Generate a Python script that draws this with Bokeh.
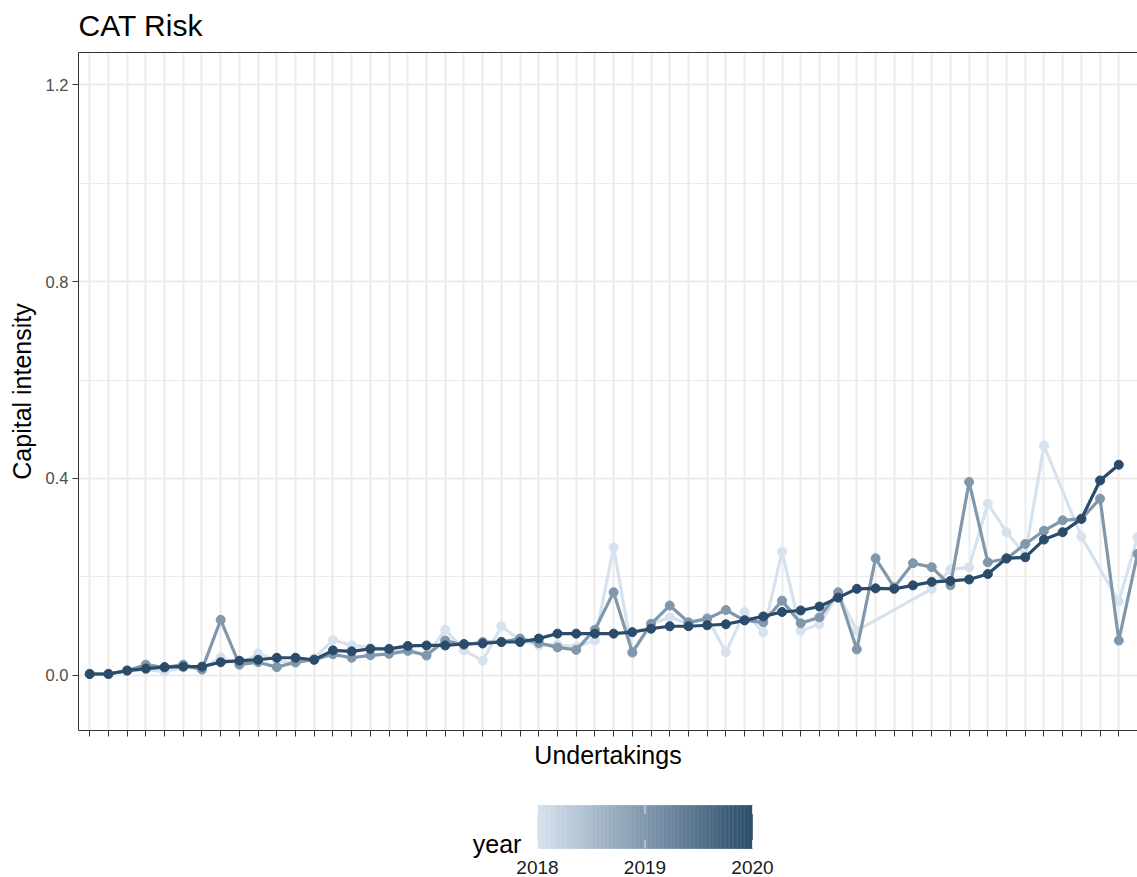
from bokeh.embed import file_html
from bokeh.layouts import column
from bokeh.models import FixedTicker, LinearAxis, Range1d
from bokeh.plotting import figure
from bokeh.resources import INLINE

# Capital intensity for CAT risk, one value per undertaking and year
# (undertakings ordered along the x axis; None = no submission that year)
undertakings = list(range(57))
years = [2018, 2019, 2020]

ci_2018 = [0.004, 0.004, 0.009, 0.012, 0.008, 0.016, 0.014, 0.037, 0.022, 0.045,
           0.030, 0.024, 0.035, 0.072, 0.061, 0.057, 0.052, 0.055, 0.039, 0.093,
           0.051, 0.030, 0.100, 0.072, 0.061, 0.063, 0.058, 0.071, 0.260, 0.045,
           0.105, 0.118, 0.105, 0.118, 0.047, 0.129, 0.087, 0.251, 0.091, 0.104,
           0.165, 0.091, None, None, None, 0.176, 0.215, 0.220, 0.349, 0.291,
           0.245, 0.467, None, 0.282, None, 0.150, 0.281]

ci_2019 = [0.003, 0.003, 0.010, 0.022, 0.016, 0.022, 0.012, 0.113, 0.022, 0.027,
           0.017, 0.027, 0.032, 0.043, 0.036, 0.041, 0.044, 0.050, 0.041, 0.071,
           0.062, 0.068, 0.068, 0.075, 0.066, 0.057, 0.052, 0.093, 0.169, 0.047,
           0.105, 0.142, 0.108, 0.115, 0.133, 0.112, 0.108, 0.152, 0.106, 0.118,
           0.169, 0.053, 0.238, 0.179, 0.228, 0.220, 0.183, 0.393, 0.230, 0.237,
           0.267, 0.294, 0.315, 0.318, 0.359, 0.071, 0.247]

ci_2020 = [0.003, 0.003, 0.010, 0.014, 0.017, 0.018, 0.018, 0.027, 0.030, 0.032,
           0.036, 0.036, 0.032, 0.051, 0.049, 0.054, 0.054, 0.060, 0.061, 0.061,
           0.064, 0.065, 0.068, 0.068, 0.075, 0.085, 0.085, 0.085, 0.085, 0.088,
           0.095, 0.100, 0.100, 0.102, 0.104, 0.112, 0.120, 0.129, 0.132, 0.140,
           0.158, 0.176, 0.177, 0.176, 0.183, 0.190, 0.192, 0.195, 0.206, 0.238,
           0.240, 0.276, 0.291, 0.318, 0.396, 0.428, None]

y_ticks = [0.0, 0.4, 0.8, 1.2]
y_minor = [0.2, 0.6, 1.0]

FONT = "Liberation Sans"
BORDER = "#333333"
LOW, HIGH = (214, 226, 238), (42, 76, 106)


def year_colour(year):
    t = (year - years[0]) / (years[-1] - years[0])
    r, g, b = (round(lo + (hi - lo) * t) for lo, hi in zip(LOW, HIGH))
    return f"#{r:02x}{g:02x}{b:02x}"


def strip(width, height, x_range, y_range):
    """A bare figure used for the heading and the colour bar."""
    f = figure(width=width, height=height, output_backend="svg",
               toolbar_location=None, x_range=x_range, y_range=y_range,
               x_axis_type=None, y_axis_type=None,
               min_border_left=78, min_border_right=0, min_border_top=0,
               min_border_bottom=0)
    f.outline_line_color = None
    f.grid.visible = False
    f.background_fill_color = "white"
    f.border_fill_color = "white"
    return f


# ---------------------------------------------------------------- heading
head = strip(1137, 50, Range1d(0, 1059), Range1d(50, 0))
head.text(x=[0], y=[25], text=["CAT Risk"],
          text_font={"value": FONT}, text_font_size={"value": "30px"},
          text_color="black", text_align="left", text_baseline="middle")

# ---------------------------------------------------------------- main panel
p = figure(width=1137, height=730, output_backend="svg", toolbar_location=None,
           x_range=Range1d(-0.6, 56.0), y_range=Range1d(-0.1117, 1.265),
           min_border_left=78, min_border_right=0, min_border_top=2,
           min_border_bottom=50)
p.background_fill_color = "white"
p.border_fill_color = "white"
p.outline_line_color = None  # panel border drawn by the axes (open on the right)

xaxis = p.below[0]
yaxis = p.left[0]

xaxis.ticker = FixedTicker(ticks=undertakings)
xaxis.major_label_overrides = {i: "" for i in undertakings}
xaxis.major_label_text_font_size = "1px"
xaxis.major_label_standoff = 0
yaxis.ticker = FixedTicker(ticks=y_ticks, minor_ticks=y_minor)
yaxis.major_label_overrides = {v: f"{v:.1f}" for v in y_ticks}

for ax in (xaxis, yaxis):
    ax.axis_line_color = BORDER
    ax.axis_line_width = 1
    ax.major_tick_line_color = BORDER
    ax.major_tick_line_width = 1
    ax.major_tick_in = 0
    ax.major_tick_out = 6
    ax.minor_tick_line_color = None
    ax.axis_label_text_font = FONT
    ax.axis_label_text_font_size = "25px"
    ax.axis_label_text_font_style = "normal"
    ax.axis_label_text_color = "black"

xaxis.axis_label = "Undertakings"
xaxis.axis_label_standoff = 4
yaxis.axis_label = "Capital intensity"
yaxis.axis_label_standoff = 7
yaxis.major_label_text_font = FONT
yaxis.major_label_text_font_size = "16.5px"
yaxis.major_label_text_color = "#4d4d4d"
yaxis.major_label_standoff = 4

# top edge of the panel border
top = LinearAxis(ticker=FixedTicker(ticks=[]), major_label_text_font_size="0px",
                 major_tick_out=0, major_tick_in=0, major_label_standoff=0,
                 axis_line_color=BORDER, axis_line_width=1,
                 minor_tick_line_color=None)
p.add_layout(top, "above")

p.xgrid.grid_line_color = "#ebebeb"
p.xgrid.grid_line_width = 2
p.ygrid.grid_line_color = "#ebebeb"
p.ygrid.grid_line_width = 2
p.ygrid.minor_grid_line_color = "#ebebeb"
p.ygrid.minor_grid_line_width = 1.2

for year, values in zip(years, [ci_2018, ci_2019, ci_2020]):
    xs = [u for u, v in zip(undertakings, values) if v is not None]
    ys = [v for v in values if v is not None]
    col = year_colour(year)
    p.line(xs, ys, line_color=col, line_width=3.2)
    p.scatter(xs, ys, size=9, fill_color=col, line_color=col)

# ---------------------------------------------------------------- colour bar
bar_top, bar_bottom = 25, 68
lg = strip(1137, 97, Range1d(2013.7302, 2023.5814), Range1d(97, 0))

steps = 160
span = years[-1] - years[0]
lefts = [years[0] + span * k / steps for k in range(steps)]
rights = [years[0] + span * (k + 1) / steps for k in range(steps)]
cols = [year_colour(years[0] + span * (k + 0.5) / steps) for k in range(steps)]
lg.quad(left=lefts, right=rights, top=bar_top, bottom=bar_bottom,
        fill_color=cols, line_color=cols, line_width=0.6)

tick_len = (bar_bottom - bar_top) / 5
lg.segment(x0=years, x1=years, y0=[bar_top] * 3, y1=[bar_top + tick_len] * 3,
           line_color="white", line_width=1, line_alpha=0.8)
lg.segment(x0=years, x1=years, y0=[bar_bottom - tick_len] * 3, y1=[bar_bottom] * 3,
           line_color="white", line_width=1, line_alpha=0.8)

lg.text(x=years, y=[86.5] * 3, text=[str(y) for y in years],
        text_font={"value": FONT}, text_font_size={"value": "19px"},
        text_color="#1a1a1a", text_align="center", text_baseline="middle")
lg.text(x=[2017.85], y=[63], text=["year"],
        text_font={"value": FONT}, text_font_size={"value": "25px"},
        text_color="black", text_align="right", text_baseline="middle")

layout = column(head, p, lg, spacing=0)
open("out.html", "w").write(file_html(layout, INLINE))
